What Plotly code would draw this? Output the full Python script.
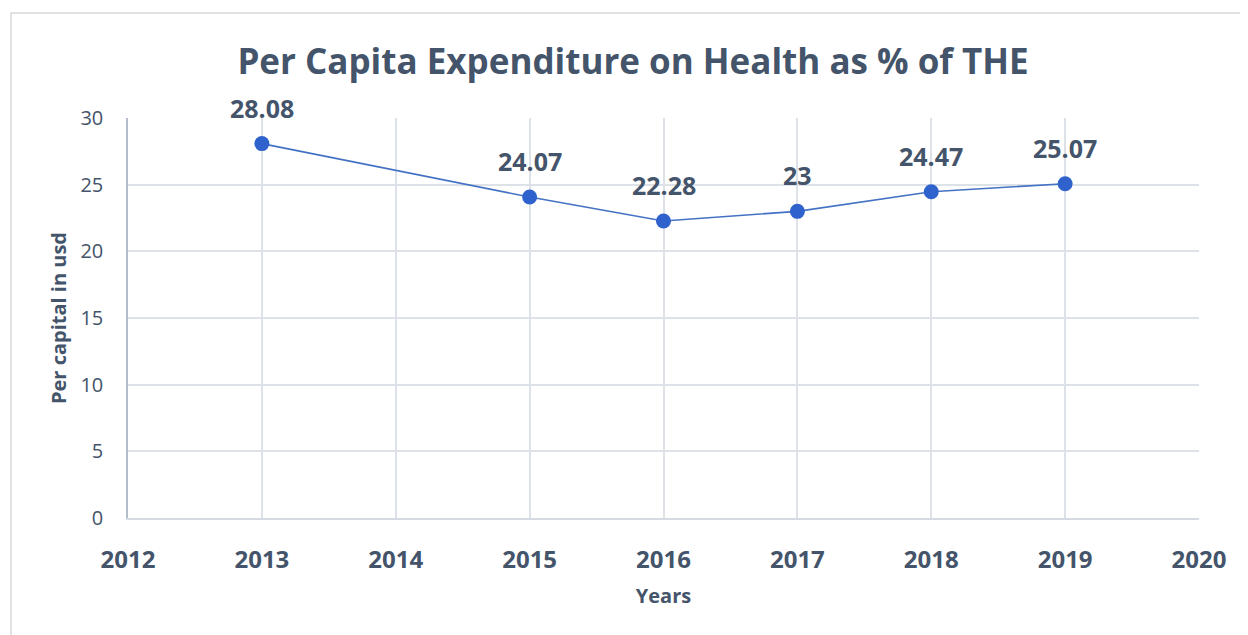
import plotly.graph_objects as go

years = [2013, 2015, 2016, 2017, 2018, 2019]
values = [28.08, 24.07, 22.28, 23, 24.47, 25.07]
labels = ["28.08", "24.07", "22.28", "23", "24.47", "25.07"]
x_ticks = [2012, 2013, 2014, 2015, 2016, 2017, 2018, 2019, 2020]
y_ticks = [0, 5, 10, 15, 20, 25, 30]

TXT = "#44546A"
FONT = "Open Sans"

fig = go.Figure()
fig.add_trace(go.Scatter(
    x=years, y=values, mode="lines+markers",
    line=dict(color="#4472C4", width=1.6),
    marker=dict(color="#2F62CC", size=15),
    cliponaxis=False, showlegend=False,
))

annotations = [
    dict(x=xv, y=yv, text="<b>%s</b>" % t, showarrow=False,
         xref="x", yref="y", yanchor="middle", yshift=36,
         font=dict(family=FONT, size=25, color=TXT))
    for xv, yv, t in zip(years, values, labels)
]

W, H = 1240, 627
fig.update_layout(
    width=W, height=H,
    margin=dict(l=120, r=49, t=110, b=117),
    paper_bgcolor="white", plot_bgcolor="white",
    title=dict(text="<b>Per Capita Expenditure on Health as % of THE</b>",
               x=625 / W, xanchor="center", y=1 - 54 / H, yanchor="middle",
               font=dict(family=FONT, size=35, color=TXT)),
    xaxis=dict(range=[2012, 2020], tickvals=x_ticks,
               showgrid=True, gridcolor="#DDE1E8", gridwidth=1.5,
               showline=True, linecolor="#D5DAE3", linewidth=1.5,
               zeroline=False, ticks="", ticklabelstandoff=19,
               tickfont=dict(family=FONT, size=24, color=TXT, weight="bold"),
               title=dict(text="<b>Years</b>", standoff=15,
                          font=dict(family=FONT, size=20, color=TXT))),
    yaxis=dict(range=[0, 30], tickvals=y_ticks,
               showgrid=True, gridcolor="#DDE1E8", gridwidth=1.5,
               showline=True, linecolor="#B4BDCC", linewidth=1.5,
               zeroline=False, ticks="", ticklabelstandoff=19,
               tickfont=dict(family=FONT, size=20, color=TXT),
               title=dict(text="<b>Per capital in usd</b>", standoff=8,
                          font=dict(family=FONT, size=20, color=TXT))),
    annotations=annotations,
    shapes=[dict(type="rect", xref="paper", yref="paper",
                 x0=(3 - 120) / 1071, x1=(1260 - 120) / 1071,
                 y0=(510 - 650) / 400, y1=(510 - 5) / 400,
                 line=dict(color="#D9D9D9", width=1.5), layer="below")],
)

fig.write_html("out.html")
